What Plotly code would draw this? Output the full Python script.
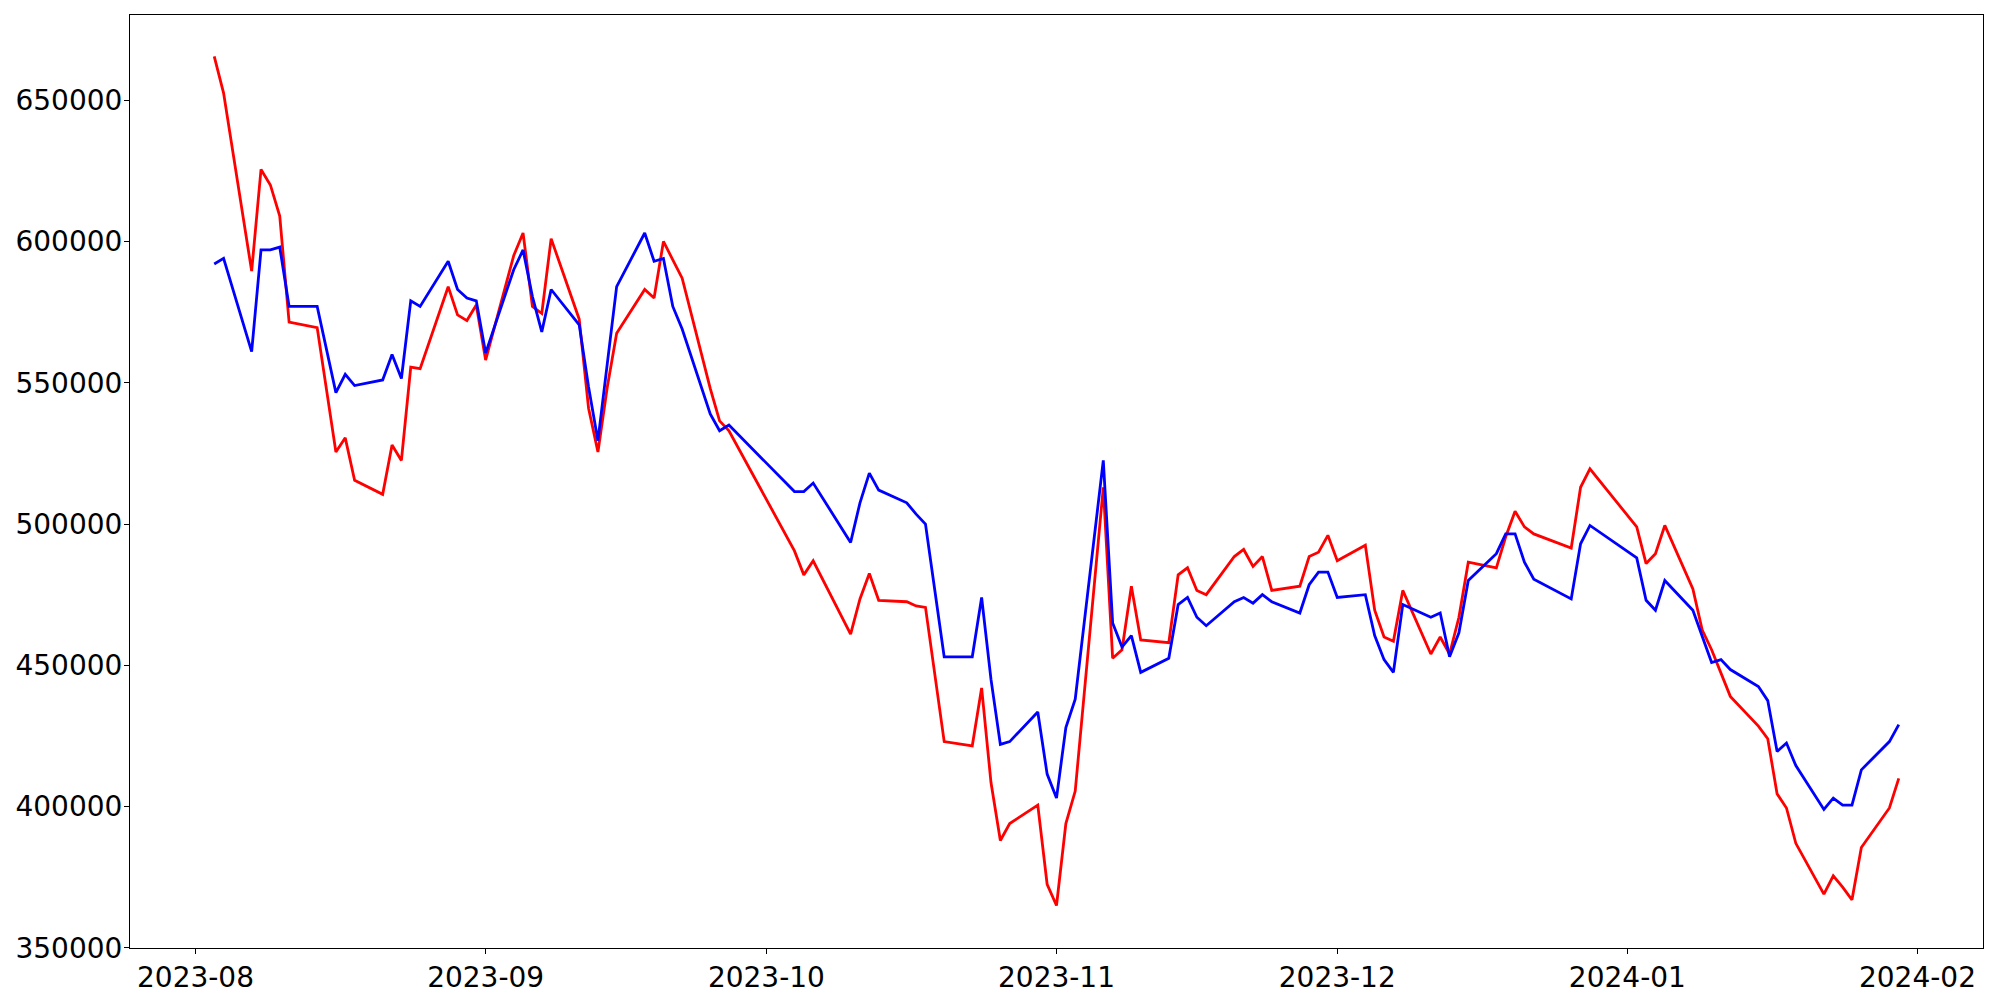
import plotly.graph_objects as go

dates = [
    "2023-08-03", "2023-08-04", "2023-08-07", "2023-08-08", "2023-08-09", "2023-08-10", "2023-08-11",
    "2023-08-14", "2023-08-16", "2023-08-17", "2023-08-18", "2023-08-21", "2023-08-22", "2023-08-23",
    "2023-08-24", "2023-08-25", "2023-08-28", "2023-08-29", "2023-08-30", "2023-08-31",
    "2023-09-01", "2023-09-04", "2023-09-05", "2023-09-06", "2023-09-07", "2023-09-08", "2023-09-11",
    "2023-09-12", "2023-09-13", "2023-09-14", "2023-09-15", "2023-09-18", "2023-09-19", "2023-09-20",
    "2023-09-21", "2023-09-22", "2023-09-25", "2023-09-26", "2023-09-27",
    "2023-10-04", "2023-10-05", "2023-10-06", "2023-10-10", "2023-10-11", "2023-10-12", "2023-10-13",
    "2023-10-16", "2023-10-17", "2023-10-18", "2023-10-19", "2023-10-20", "2023-10-23", "2023-10-24",
    "2023-10-25", "2023-10-26", "2023-10-27", "2023-10-30", "2023-10-31",
    "2023-11-01", "2023-11-02", "2023-11-03", "2023-11-06", "2023-11-07", "2023-11-08", "2023-11-09",
    "2023-11-10", "2023-11-13", "2023-11-14", "2023-11-15", "2023-11-16", "2023-11-17", "2023-11-20",
    "2023-11-21", "2023-11-22", "2023-11-23", "2023-11-24", "2023-11-27", "2023-11-28", "2023-11-29",
    "2023-11-30",
    "2023-12-01", "2023-12-04", "2023-12-05", "2023-12-06", "2023-12-07", "2023-12-08", "2023-12-11",
    "2023-12-12", "2023-12-13", "2023-12-14", "2023-12-15", "2023-12-18", "2023-12-19", "2023-12-20",
    "2023-12-21", "2023-12-22", "2023-12-26", "2023-12-27", "2023-12-28",
    "2024-01-02", "2024-01-03", "2024-01-04", "2024-01-05", "2024-01-08", "2024-01-09", "2024-01-10",
    "2024-01-11", "2024-01-12", "2024-01-15", "2024-01-16", "2024-01-17", "2024-01-18", "2024-01-19",
    "2024-01-22", "2024-01-23", "2024-01-24", "2024-01-25", "2024-01-26", "2024-01-29", "2024-01-30",
]

red_values = [
    665500, 652500, 589500, 625500, 620000, 609000, 571500, 569500, 525500, 530500, 515500, 510500,
    528000, 522500, 555500, 555000, 584000, 574000, 572000, 577500,
    558000, 595000, 603000, 577000, 574500, 601000, 572500, 541000, 525500, 548500, 567500, 583000,
    580000, 600000, 593500, 587000, 548000, 536500, 533000,
    490500, 482000, 487000, 461000, 473500, 482500, 473000, 472500, 471000, 470500, 447000, 423000,
    421500, 442000, 408500, 388000, 394000, 400500, 372500,
    365000, 394000, 405500, 513000, 452500, 455500, 478000, 459000, 458000, 482000, 484500, 476500,
    475000, 488500, 491000, 485000, 488500, 476500, 478000, 488500, 490000, 496000,
    487000, 492500, 469500, 460000, 458500, 476500, 454000, 460000, 454000, 467000, 486500, 484500,
    495500, 504500, 499000, 496500, 491500, 513000, 519500,
    499000, 486000, 489500, 499500, 477000, 462500, 455500, 447000, 439000, 428500, 424000, 404500,
    399500, 387000, 369000, 375500, 371500, 367000, 385500, 399500, 410000,
]

blue_values = [
    592000, 594000, 561000, 597000, 597000, 598000, 577000, 577000, 546500, 553000, 549000, 551000,
    560000, 551500, 579000, 577000, 593000, 583000, 580000, 579000,
    560500, 590000, 597000, 580500, 568000, 583000, 570500, 548500, 529500, 557000, 584000, 603000,
    593000, 594000, 577000, 569000, 539000, 533000, 535000,
    511500, 511500, 514500, 493500, 507500, 518000, 512000, 507500, 503500, 500000, 476500, 453000,
    453000, 474000, 445000, 422000, 423000, 433500, 411500,
    403000, 428000, 438000, 522500, 465000, 456500, 460500, 447500, 452500, 471500, 474000, 467000,
    464000, 472500, 474000, 472000, 475000, 472500, 468500, 478500, 483000, 483000,
    474000, 475000, 460500, 452000, 447500, 471500, 467000, 468500, 453000, 461500, 480000, 489500,
    496500, 496500, 486500, 480500, 473500, 493000, 499500,
    488000, 473000, 469500, 480000, 469500, 460500, 451000, 452000, 448500, 442500, 437500, 419500,
    422500, 414500, 399000, 403000, 400500, 400500, 413000, 423000, 429000,
]

y_ticks = [350000, 400000, 450000, 500000, 550000, 600000, 650000]

fig = go.Figure()
fig.add_trace(go.Scatter(x=dates, y=red_values, mode="lines",
                         line=dict(color="#ff0000", width=2.8), name="red"))
fig.add_trace(go.Scatter(x=dates, y=blue_values, mode="lines",
                         line=dict(color="#0000ff", width=2.8), name="blue"))

font = dict(family="DejaVu Sans", size=28, color="black")

fig.update_layout(
    width=2000, height=1000,
    margin=dict(l=122, r=25, t=7, b=60, autoexpand=False),
    paper_bgcolor="white", plot_bgcolor="white",
    showlegend=False,
    font=font,
    xaxis=dict(
        type="date", automargin=False,
        range=["2023-07-25", "2024-02-08"],
        tick0="2023-08-01", dtick="M1", tickformat="%Y-%m",
        showgrid=False, zeroline=False,
        showline=True, linecolor="black", linewidth=1.1, mirror=True,
        ticks="outside", ticklen=5, tickwidth=1.1, tickcolor="black",
        ticklabelstandoff=-1,
        tickfont=font,
    ),
    yaxis=dict(
        automargin=False,
        range=[349950, 680150],
        tickmode="array", tickvals=y_ticks, ticktext=[str(v) for v in y_ticks],
        showgrid=False, zeroline=False,
        showline=True, linecolor="black", linewidth=1.1, mirror=True,
        ticks="outside", ticklen=5, tickwidth=1.1, tickcolor="black",
        ticklabelstandoff=-4,
        tickfont=font,
    ),
)

fig.write_html("out.html")
